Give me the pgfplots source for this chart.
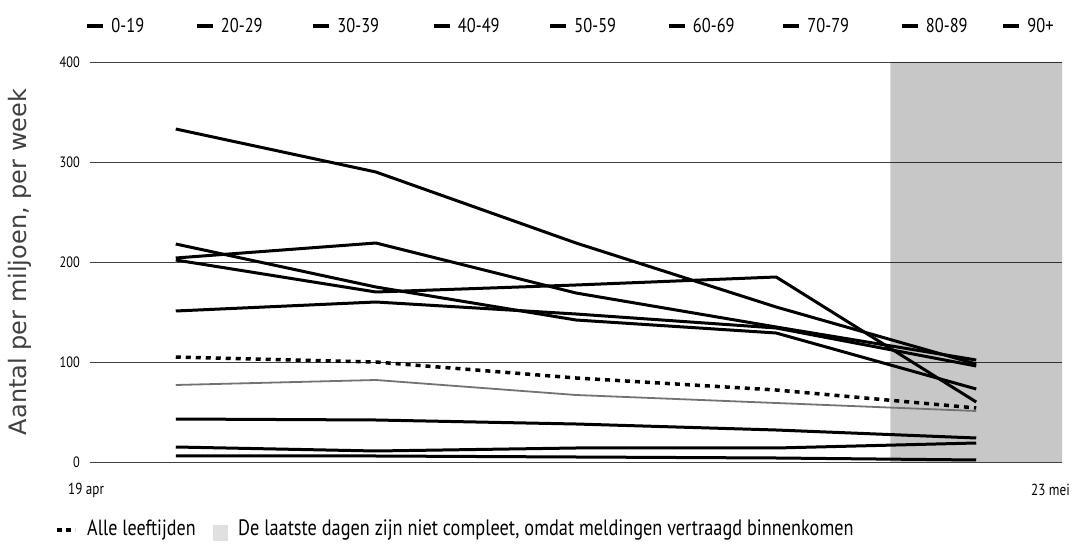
\documentclass[border=0pt]{standalone}
\usepackage{fontspec}
\setmainfont{PT Sans}
\newfontfamily\cond{PT Sans}[FakeStretch=0.82]
\newfontfamily\ylab{DejaVu Sans}
\usepackage{pgfplots}
\pgfplotsset{compat=1.18}
\begin{document}
\begin{tikzpicture}
\begin{axis}[
  scale only axis, width=972pt, height=400pt,
  xmin=0, xmax=34, ymin=0, ymax=400,
  axis line style={draw=none},
  xtick=\empty,
  ytick={0,100,200,300,400},
  yticklabels={0,100,200,300,400},
  major tick length=0pt,
  ymajorgrids, grid style={line width=0.9pt, black!75},
  yticklabel style={font=\cond\fontsize{15}{15}\selectfont, inner sep=0pt, xshift=-10pt},
  ylabel={Aantal per miljoen, per week},
  ylabel style={font=\ylab\fontsize{24}{24}\selectfont, color=black!75, at={(axis description cs:-0.072,0.5)}, anchor=center},
  every axis plot/.append style={line join=round},
  legend columns=9,
  legend style={draw=none, fill=none, at={(axis description cs:0,1)}, anchor=west, yshift=36pt, xshift=-5pt,
    inner sep=0pt, outer sep=0pt, font=\cond\fontsize{20}{20}\selectfont,
    nodes={inner sep=0pt, anchor=west}, column sep=0pt,
    /tikz/every odd column/.append style={column sep=6pt}},
  legend image code/.code={\draw[line width=4.5pt, black] (0pt,0pt) -- (16pt,0pt);},
]
\addplot[draw=none, fill=black, fill opacity=0.22, forget plot]
  coordinates {(28,0) (28,400) (34,400) (34,0) (28,0)};

\addplot[black, line width=3pt] coordinates {(3,6) (10,6) (17,5) (24,4) (31,2)};
\addlegendentry{\makebox[83pt][l]{0-19}}
\addplot[black, line width=3pt] coordinates {(3,15) (10,11) (17,14) (24,14) (31,19)};
\addlegendentry{\makebox[90pt][l]{20-29}}
\addplot[black, line width=3pt] coordinates {(3,43) (10,42) (17,38) (24,32) (31,24)};
\addlegendentry{\makebox[94pt][l]{30-39}}
\addplot[black!55, line width=1.8pt] coordinates {(3,77) (10,82) (17,67) (24,59) (31,51)};
\addlegendentry{\makebox[90pt][l]{40-49}}
\addplot[black, line width=3pt] coordinates {(3,151) (10,160) (17,148) (24,134) (31,96)};
\addlegendentry{\makebox[92pt][l]{50-59}}
\addplot[black, line width=3pt] coordinates {(3,218) (10,175) (17,142) (24,129) (31,73)};
\addlegendentry{\makebox[88pt][l]{60-69}}
\addplot[black, line width=3pt] coordinates {(3,204) (10,219) (17,169) (24,135) (31,102)};
\addlegendentry{\makebox[92pt][l]{70-79}}
\addplot[black, line width=3pt] coordinates {(3,202) (10,170) (17,177) (24,185) (31,60)};
\addlegendentry{\makebox[75pt][l]{80-89}}
\addplot[black, line width=3pt] coordinates {(3,333) (10,290) (17,219) (24,155) (31,98)};
\addlegendentry{90+}

\addplot[black, line width=3.5pt, dash pattern=on 5pt off 5pt, forget plot]
  coordinates {(3,105) (10,100) (17,84) (24,72) (31,54)};
\end{axis}
% date labels
\node[anchor=west, inner sep=0pt, font=\cond\fontsize{16}{16}\selectfont] at (-22pt,-28pt) {19 apr};
\node[anchor=east, inner sep=0pt, font=\cond\fontsize{16}{16}\selectfont] at (980pt,-28pt) {23 mei};
% bottom legend
\draw[line width=3.5pt, dash pattern=on 5pt off 4pt] (-33pt,-68pt) -- (-15pt,-68pt);
\node[anchor=west, inner sep=0pt, font=\cond\fontsize{22}{22}\selectfont] at (-3pt,-68pt) {Alle leeftijden};
\fill[black!12] (123pt,-79pt) rectangle (138pt,-63pt);
\node[anchor=west, inner sep=0pt, font=\cond\fontsize{22.3}{22.3}\selectfont] at (148pt,-68pt) {De laatste dagen zijn niet compleet, omdat meldingen vertraagd binnenkomen};
\pgfresetboundingbox
\path (-90pt,-84pt) rectangle (997pt,462pt);
\end{tikzpicture}
\end{document}
